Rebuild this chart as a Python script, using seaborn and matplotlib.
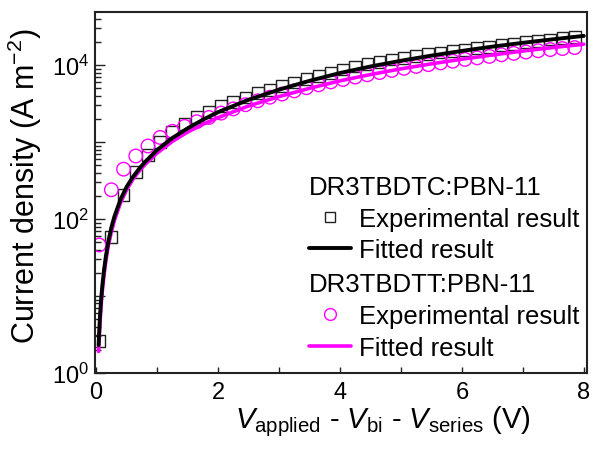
import numpy as np
import pandas as pd
import matplotlib
matplotlib.use("Agg")
import matplotlib.pyplot as plt
import seaborn as sns
from matplotlib.lines import Line2D
from matplotlib.ticker import LogLocator, FuncFormatter, MultipleLocator, NullFormatter

# ---------------- data ----------------
v_exp = [0.05, 0.25, 0.45, 0.65, 0.85, 1.05, 1.25, 1.45, 1.65, 1.85,
         2.05, 2.25, 2.45, 2.65, 2.85, 3.05, 3.25, 3.45, 3.65, 3.85,
         4.05, 4.25, 4.45, 4.65, 4.85, 5.05, 5.25, 5.45, 5.65, 5.85,
         6.05, 6.25, 6.45, 6.65, 6.85, 7.05, 7.25, 7.45, 7.65, 7.85]

j_tc_exp = [2.6, 58, 205, 410, 680, 1000, 1350, 1720, 2100, 2480,
            2920, 3330, 3800, 4300, 4800, 5350, 5950, 6550, 7200, 7950,
            8800, 9600, 10300, 11000, 11800, 12500, 13200, 13900, 14600, 15300,
            15900, 16600, 17300, 18100, 18900, 19800, 20700, 21600, 22500, 23400]

j_tt_exp = [46, 240, 445, 660, 890, 1150, 1380, 1600, 1840, 2090,
            2380, 2700, 3060, 3440, 3830, 4210, 4630, 5090, 5550, 6050,
            6510, 7000, 7490, 8010, 8530, 9090, 9620, 10150, 10700, 11250,
            11870, 12430, 12990, 13640, 14220, 14800, 15380, 15940, 16420, 16910]

v_fit = [0.04, 0.06, 0.08, 0.10, 0.13, 0.16, 0.20, 0.25, 0.30, 0.40,
         0.50, 0.60, 0.70, 0.80, 1.00, 1.25, 1.50, 1.75, 2.00, 2.50,
         3.00, 3.50, 4.00, 4.50, 5.00, 5.50, 6.00, 6.50, 7.00, 7.50, 8.00]

j_tc_fit = [2.3, 5.0, 8.7, 13.3, 22, 33, 51, 78, 108, 180,
            262, 350, 445, 550, 790, 1130, 1510, 1950, 2450, 3550,
            4800, 6250, 7900, 9600, 11400, 13300, 15300, 17400, 19500, 21700, 24000]

j_tt_fit = [1.9, 4.1, 7.3, 11.3, 19, 29, 45, 68, 96, 163,
            240, 325, 415, 510, 720, 1020, 1350, 1700, 2080, 2950,
            3900, 5000, 6250, 7550, 8950, 10400, 11950, 13550, 15250, 16950, 18700]

names = ["DR3TBDTC:PBN-11", "DR3TBDTT:PBN-11"]
lab_exp = "Experimental result"
lab_fit = "Fitted result"
x_label = r"$V_{\mathrm{applied}}$ - $V_{\mathrm{bi}}$ - $V_{\mathrm{series}}$ (V)"
y_label = r"Current density (A m$^{\mathrm{-2}}$)"

df_exp = pd.DataFrame({"V": v_exp, "TC": j_tc_exp, "TT": j_tt_exp})
df_fit = pd.DataFrame({"V": v_fit, "TC": j_tc_fit, "TT": j_tt_fit})

# ---------------- style ----------------
sns.set_style("ticks")
plt.rcParams["font.family"] = ["Liberation Sans", "DejaVu Sans"]
plt.rcParams["mathtext.fontset"] = "custom"
plt.rcParams["mathtext.rm"] = "Liberation Sans"
plt.rcParams["mathtext.it"] = "Liberation Sans:italic"
plt.rcParams["mathtext.bf"] = "Liberation Sans:bold"
for k in ["text.color", "axes.labelcolor", "xtick.color", "ytick.color"]:
    plt.rcParams[k] = "black"

MAG = "#FF00FF"

fig = plt.figure(figsize=(5.97, 4.52), dpi=100)
ax = fig.add_axes([0.159, 0.1726, 0.824, 0.7986])

sns.scatterplot(data=df_exp, x="V", y="TC", ax=ax, marker="s", s=72,
                facecolors="none", edgecolors="#222222", linewidths=1.0,
                legend=False, zorder=2)
sns.scatterplot(data=df_exp, x="V", y="TT", ax=ax, marker="o", s=95,
                facecolors="none", edgecolors=MAG, linewidths=1.0,
                legend=False, zorder=2)
sns.lineplot(data=df_fit, x="V", y="TT", ax=ax, color=MAG, lw=2.6,
             legend=False, zorder=3)
sns.lineplot(data=df_fit, x="V", y="TC", ax=ax, color="black", lw=2.8,
             legend=False, zorder=4)

ax.set_yscale("log")
ax.set_xlim(-0.02, 8.05)
ax.set_ylim(1, 4.9e4)

ax.xaxis.set_major_locator(MultipleLocator(1))
ax.xaxis.set_major_formatter(FuncFormatter(lambda v, p: f"{int(round(v))}" if int(round(v)) % 2 == 0 else ""))
ax.yaxis.set_major_locator(LogLocator(base=10, numticks=20))
ax.yaxis.set_minor_locator(LogLocator(base=10, subs=np.arange(2, 10), numticks=20))
ax.yaxis.set_minor_formatter(NullFormatter())


def yfmt(v, p):
    e = int(round(np.log10(v)))
    return r"$\mathdefault{10^{%d}}$" % e if e % 2 == 0 else ""


ax.yaxis.set_major_formatter(FuncFormatter(yfmt))

ax.tick_params(axis="both", which="both", direction="in", top=False, right=False,
               labelsize=17, color="#222222", labelcolor="black", width=1.0)
ax.tick_params(axis="x", which="major", length=4, pad=6)
ax.tick_params(axis="y", which="major", length=7, pad=4)
ax.tick_params(axis="y", which="minor", length=4)

for sp in ax.spines.values():
    sp.set_linewidth(1.5)
    sp.set_color("#222222")

ax.set_xlabel(x_label, fontsize=21, labelpad=1)
ax.xaxis.set_label_coords(0.585, -0.085)
ax.set_ylabel(y_label, fontsize=22, labelpad=4)
ax.yaxis.set_label_coords(-0.104, 0.52)

# ---------------- legends ----------------
leg_kw = dict(frameon=False, fontsize=18.5, title_fontsize=18.5, alignment="left",
              handlelength=1.65, handletextpad=0.3, labelspacing=0.3,
              borderpad=0.0, borderaxespad=0.0, loc="upper left")
h1 = [Line2D([], [], ls="none", marker="s", ms=7.5, mfc="none", mec="#222222", mew=1.0),
      Line2D([], [], color="black", lw=2.8)]
h2 = [Line2D([], [], ls="none", marker="o", ms=8.5, mfc="none", mec=MAG, mew=1.0),
      Line2D([], [], color=MAG, lw=2.6)]
leg1 = ax.legend(h1, [lab_exp, lab_fit], title=names[0],
                 bbox_to_anchor=(0.435, 0.549), **leg_kw)
ax.add_artist(leg1)
leg2 = ax.legend(h2, [lab_exp, lab_fit], title=names[1],
                 bbox_to_anchor=(0.435, 0.279), **leg_kw)
for lg in (leg1, leg2):
    for t in lg.get_texts():
        t.set_color("black")
    lg.get_title().set_color("black")

fig.savefig("out.png", dpi=100)
